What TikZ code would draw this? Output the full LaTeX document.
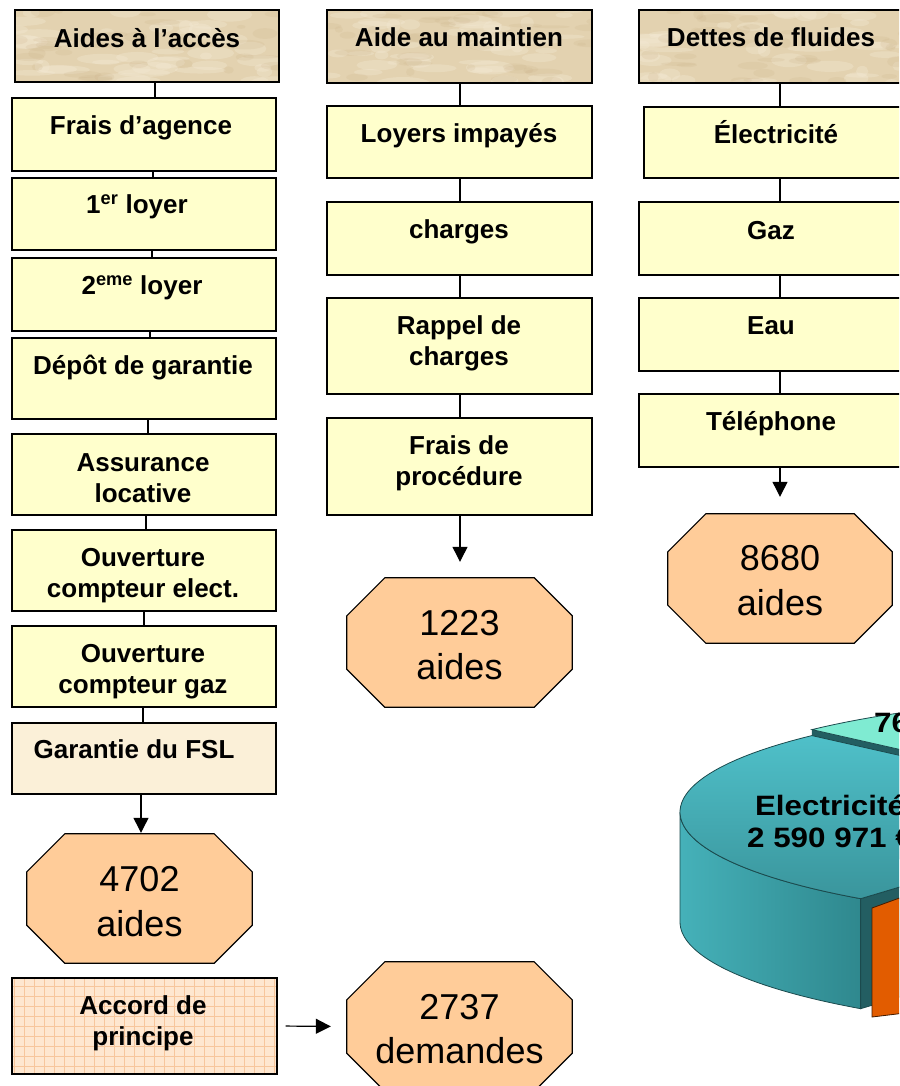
\documentclass[tikz,border=0pt]{standalone}
\usepackage{fontspec}
\setmainfont{Liberation Sans}
\newfontfamily\piefont[FakeStretch=1.12]{Liberation Sans}
\usetikzlibrary{arrows.meta,calc}
\definecolor{boxy}{HTML}{FFFFCC}
\definecolor{parch}{HTML}{E3D2B0}
\definecolor{parchL}{HTML}{F4EAD5}
\definecolor{parchD}{HTML}{C8AD83}
\definecolor{garant}{HTML}{FBF0D8}
\definecolor{octc}{HTML}{FFCC99}
\definecolor{accordc}{HTML}{FEE7D0}
\definecolor{gridc}{HTML}{F7C69C}
\definecolor{tealtopA}{HTML}{4FC0C9}
\definecolor{tealtopB}{HTML}{3A959C}
\definecolor{tealsideA}{HTML}{45B1B9}
\definecolor{tealsideB}{HTML}{2F888E}
\definecolor{tealdark}{HTML}{235E62}
\definecolor{tealedge}{HTML}{1B4A4D}
\definecolor{mint}{HTML}{7FEBD2}
\definecolor{orangec}{HTML}{E25C00}
\newcommand{\mystr}{\rule[-0.2em]{0pt}{1.12em}}
\newcommand{\octo}[1]{\filldraw[octstyle] ([xshift=38pt]#1.north west) -- ([xshift=-38pt]#1.north east) -- ([yshift=-38pt]#1.north east) -- ([yshift=38pt]#1.south east) -- ([xshift=-38pt]#1.south east) -- ([xshift=38pt]#1.south west) -- ([yshift=38pt]#1.south west) -- ([yshift=-38pt]#1.north west) -- cycle;}
\tikzset{
  parchtex/.style={path picture={
    \pgfmathsetseed{#1}
    \foreach \k in {1,...,45}{
      \pgfmathsetmacro{\ax}{rnd*270}
      \pgfmathsetmacro{\ay}{rnd*75}
      \pgfmathsetmacro{\aw}{6+rnd*22}
      \pgfmathsetmacro{\ah}{2+rnd*5}
      \fill[parchL, opacity=0.35] ([shift={(\ax,\ay)}]path picture bounding box.north west) ellipse [x radius=\aw pt, y radius=\ah pt];
    }
    \foreach \k in {1,...,35}{
      \pgfmathsetmacro{\ax}{rnd*270}
      \pgfmathsetmacro{\ay}{rnd*75}
      \pgfmathsetmacro{\aw}{4+rnd*16}
      \pgfmathsetmacro{\ah}{1.5+rnd*4}
      \fill[parchD, opacity=0.16] ([shift={(\ax,\ay)}]path picture bounding box.north west) ellipse [x radius=\aw pt, y radius=\ah pt];
    }
  }},
  box/.style={draw=black, line width=1.2pt, fill=boxy, inner sep=0pt, minimum width=264pt},
  hdr/.style={draw=black, line width=1.2pt, fill=parch, parchtex=#1, inner sep=0pt, minimum width=264pt},
  gbox/.style={draw=black, line width=1.2pt, fill=garant, inner sep=0pt, minimum width=264pt},
  abox/.style={draw=black, line width=1.2pt, fill=accordc, inner sep=0pt,
    path picture={\draw[gridc, line width=0.5pt] (path picture bounding box.north west) grid[step=10pt] (path picture bounding box.south east);}},
  octnode/.style={draw=none, inner sep=0pt, minimum width=225pt, minimum height=129pt},
  octstyle/.style={draw=black, line width=1.2pt, fill=octc},
  txt/.style={font=\bfseries\fontsize{26}{31}\selectfont, align=center, inner sep=0pt},
  otxt/.style={font=\fontsize{36}{44.5}\selectfont, align=center, inner sep=0pt},
  pietxt/.style={font=\piefont\bfseries\fontsize{28}{32}\selectfont, align=center, inner sep=0pt},
  conn/.style={draw=black, line width=1.2pt},
  arr/.style={draw=black, line width=1.2pt, -{Triangle[length=15pt,width=15pt]}}
}
\begin{document}
\begin{tikzpicture}[x=1pt,y=-1pt]
\fill[white] (0,0) rectangle (899,1086);
\useasboundingbox (0,0) rectangle (899,1086);
\clip (0,0) rectangle (899,1086);

% ---------------- pie chart ----------------
% light slice (exploded upward)
\fill[tealdark] (811.9,729.6) -- (1150,806) -- (1150,916) -- (811.9,839.6) -- cycle;
\path[fill=mint, draw=tealedge, line width=0.8pt] (1150,806) -- plot[domain=136:60, samples=40] ({1150+470*cos(\x)},{806-110*sin(\x)}) -- cycle;
% teal side wall
\path[left color=tealsideA, right color=tealsideB, draw=tealedge, line width=0.8pt]
  plot[domain=180:232, samples=40] ({1150+470*cos(\x)},{812-110*sin(\x)})
  -- plot[domain=232:180, samples=40] ({1150+470*cos(\x)},{922-110*sin(\x)}) -- cycle;
% teal radial face
\path[fill=tealdark, draw=tealedge, line width=0.8pt] (860.6,898.7) -- (1150,812) -- (1150,922) -- (860.6,1008.7) -- cycle;
% teal top
\path[top color=tealtopA, bottom color=tealtopB, draw=tealedge, line width=0.8pt]
  (1150,812) -- plot[domain=136:232, samples=50] ({1150+470*cos(\x)},{812-110*sin(\x)}) -- cycle;
% orange slice
\path[fill=orangec, draw=black!70!orangec, line width=0.8pt] (872,908) -- (905,896) -- (905,1013) -- (872,1017) -- cycle;
\node[pietxt] (pieE) at (830,805) {\mystr Electricité};
\node[pietxt] (pieV) at (830,837) {\mystr 2 590 971 €};
\node[pietxt, anchor=west] (pie76) at (874,722) {\mystr 76};

% ---------------- left column ----------------
\node[hdr=3, minimum height=72pt] (hA) at (147,46) {};
\node[txt] (hAt) at (147,38) {\mystr Aides à l’accès};
\node[box, minimum height=73pt] (b1) at (144,134.5) {};
\node[txt] (b1t) at (141,125) {\mystr Frais d’agence};
\node[box, minimum height=72pt] (b2) at (144,214) {};
\node[txt] (b2t) at (137,204) {\mystr 1\textsuperscript{er} loyer};
\node[box, minimum height=73pt] (b3) at (144,294.5) {};
\node[txt] (b3t) at (142,285) {\mystr 2\textsuperscript{eme} loyer};
\node[box, minimum height=81pt] (b4) at (144,378.5) {};
\node[txt] (b4t) at (143,365) {\mystr Dépôt de garantie};
\node[box, minimum height=81pt] (b5) at (144,474.5) {};
\node[txt] (b5t) at (143,477.5) {\mystr Assurance\\\mystr locative};
\node[box, minimum height=81pt] (b6) at (144,570.5) {};
\node[txt] (b6t) at (143,572.5) {\mystr Ouverture\\\mystr compteur elect.};
\node[box, minimum height=81pt] (b7) at (144,666.5) {};
\node[txt] (b7t) at (143,669) {\mystr Ouverture\\\mystr compteur gaz};
\node[gbox, minimum height=71pt] (b8) at (144,758.5) {};
\node[txt] (b8t) at (134,749) {\mystr Garantie du FSL};
\node[octnode] (o1) at (139.5,898.5) {};
\octo{o1}
\node[otxt] (o1t) at (139.5,901) {\mystr 4702\\\mystr aides};
\node[abox, minimum width=265pt, minimum height=96pt] (b9) at (144.5,1026) {};
\node[txt] (b9t) at (143,1021) {\mystr Accord de\\\mystr principe};
\node[octnode] (o4) at (459.5,1026.5) {};
\octo{o4}
\node[otxt] (o4t) at (459.5,1028.5) {\mystr 2737\\\mystr demandes};

\draw[conn] (hA.south -| 155,0) -- (b1.north -| 155,0);
\draw[conn] (b1.south -| 153,0) -- (b2.north -| 153,0);
\draw[conn] (b2.south -| 152,0) -- (b3.north -| 152,0);
\draw[conn] (b3.south -| 150,0) -- (b4.north -| 150,0);
\draw[conn] (b4.south -| 148,0) -- (b5.north -| 148,0);
\draw[conn] (b5.south -| 146,0) -- (b6.north -| 146,0);
\draw[conn] (b6.south -| 144,0) -- (b7.north -| 144,0);
\draw[conn] (b7.south -| 143,0) -- (b8.north -| 143,0);
\draw[arr, shorten >=1pt] (b8.south -| 141,0) -- (o1.north -| 141,0);
\draw[arr, shorten <=8pt, shorten >=16pt] (b9.east) -- (o4.west);

% ---------------- middle column ----------------
\node[hdr=11, minimum width=265pt, minimum height=73pt] (hB) at (459.5,46.5) {};
\node[txt] (hBt) at (459,37) {\mystr Aide au maintien};
\node[box, minimum width=265pt, minimum height=72pt] (m1) at (459.5,142) {};
\node[txt] (m1t) at (459,133) {\mystr Loyers impayés};
\node[box, minimum width=265pt, minimum height=73pt] (m2) at (459.5,238.5) {};
\node[txt] (m2t) at (459,229) {\mystr charges};
\node[box, minimum width=265pt, minimum height=96pt] (m3) at (459.5,346) {};
\node[txt] (m3t) at (459,341) {\mystr Rappel de\\\mystr charges};
\node[box, minimum width=265pt, minimum height=97pt] (m4) at (459.5,466.5) {};
\node[txt] (m4t) at (459,461) {\mystr Frais de\\\mystr procédure};
\node[octnode] (o2) at (459.5,642.5) {};
\octo{o2}
\node[otxt] (o2t) at (459.5,644.5) {\mystr 1223\\\mystr aides};
\draw[conn] (hB.south -| 460,0) -- (m1.north -| 460,0);
\draw[conn] (m1.south -| 460,0) -- (m2.north -| 460,0);
\draw[conn] (m2.south -| 460,0) -- (m3.north -| 460,0);
\draw[conn] (m3.south -| 460,0) -- (m4.north -| 460,0);
\draw[arr, shorten >=16pt] (m4.south -| 460,0) -- (o2.north -| 460,0);

% ---------------- right column ----------------
\node[hdr=23, minimum height=73pt] (hC) at (771,46.5) {};
\node[txt] (hCt) at (771,37) {\mystr Dettes de fluides};
\node[box, minimum height=71pt] (r1) at (776,142.5) {};
\node[txt] (r1t) at (776,134) {\mystr Électricité};
\node[box, minimum height=73pt] (r2) at (771,238.5) {};
\node[txt] (r2t) at (771,230) {\mystr Gaz};
\node[box, minimum height=73pt] (r3) at (771,334.5) {};
\node[txt] (r3t) at (771,325) {\mystr Eau};
\node[box, minimum height=73pt] (r4) at (771,430.5) {};
\node[txt] (r4t) at (771,421) {\mystr Téléphone};
\node[octnode, minimum width=224pt] (o3) at (780,578.5) {};
\octo{o3}
\node[otxt] (o3t) at (780,580) {\mystr 8680\\\mystr aides};
\draw[conn] (hC.south -| 780,0) -- (r1.north -| 780,0);
\draw[conn] (r1.south -| 780,0) -- (r2.north -| 780,0);
\draw[conn] (r2.south -| 780,0) -- (r3.north -| 780,0);
\draw[conn] (r3.south -| 780,0) -- (r4.north -| 780,0);
\draw[arr, shorten >=17pt] (r4.south -| 780,0) -- (o3.north -| 780,0);
\end{tikzpicture}
\end{document}
